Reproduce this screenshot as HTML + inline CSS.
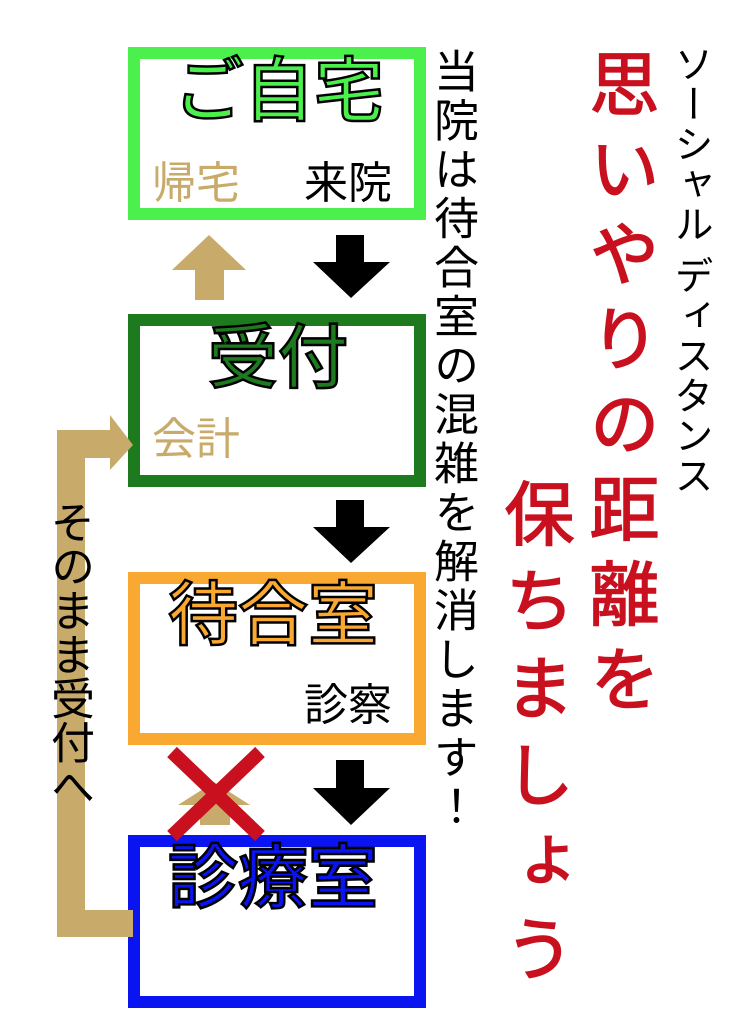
<!DOCTYPE html>
<html><head><meta charset="utf-8"><style>
body{margin:0;width:732px;height:1024px;background:#fff;position:relative;overflow:hidden;font-family:"Liberation Sans","Noto Sans CJK JP",sans-serif}
.b{position:absolute;box-sizing:border-box;left:128px;width:298px;height:173px;border:12px solid}
.t{position:absolute;font-size:70px;line-height:70px;-webkit-text-stroke:2.5px #000;white-space:nowrap;font-weight:500}
.s{position:absolute;font-size:44px;line-height:44px;white-space:nowrap}
.v{position:absolute;writing-mode:vertical-rl;white-space:nowrap}
svg{position:absolute;left:0;top:0}
</style></head><body>
<div class="b" style="top:47px;border-color:#4cf04c"></div>
<div class="b" style="top:314px;border-color:#1e7a1e"></div>
<div class="b" style="top:572px;border-color:#f9a832"></div>
<div class="b" style="top:835px;border-color:#0a14f0"></div>

<div class="t" style="left:174px;top:56px;color:#4cf04c">ご自宅</div>
<div class="s" style="left:152px;top:162px;color:#c8aa6a">帰宅</div>
<div class="s" style="left:304px;top:162px;color:#000">来院</div>
<div class="t" style="left:208px;top:323px;color:#1e7a1e">受付</div>
<div class="s" style="left:152px;top:418px;color:#c8aa6a">会計</div>
<div class="t" style="left:168px;top:580px;color:#f9a832">待合室</div>
<div class="s" style="left:304px;top:684px;color:#000">診察</div>
<div class="t" style="left:168px;top:843px;color:#0a14f0">診療室</div>

<svg width="732" height="1024">
<g fill="#c8aa6a">
<polygon points="209,235 246,270 224,270 224,300 195,300 195,270 172,270"/>
<polygon points="57,430 110,430 110,415 133,445 110,470 110,458 85,458 85,910 133,910 133,937 57,937"/>
<polygon points="214,782 250,805 230,805 230,825 200,825 200,805 178,805"/>
</g>
<g fill="#000">
<polygon points="336,235 364,235 364,262 390,262 351,298 313,262 336,262"/>
<polygon points="336,500 364,500 364,527 390,527 351,563 313,527 336,527"/>
<polygon points="336,760 364,760 364,788 390,788 351,825 313,788 336,788"/>
</g>
<g stroke="#c8101f" stroke-width="14">
<line x1="172" y1="752" x2="260" y2="836"/>
<line x1="260" y1="752" x2="172" y2="836"/>
</g>
</svg>

<div class="v" style="left:428px;top:48px;font-size:45px;line-height:48px;letter-spacing:4px;color:#000">当院は待合室の混雑を解消します！</div>
<div class="v" style="left:583px;top:48px;font-size:70px;line-height:72px;letter-spacing:15px;color:#c8101f;-webkit-text-stroke:1.5px #c8101f">思いやりの距離を</div>
<div class="v" style="left:498px;top:478px;font-size:70px;line-height:72px;letter-spacing:17px;color:#c8101f;-webkit-text-stroke:1.5px #c8101f">保ちましょう</div>
<div class="v" style="left:668px;top:44px;font-size:39px;line-height:44px;letter-spacing:1px;color:#000">ソーシャル ディスタンス</div>
<div class="v" style="left:44px;top:500px;font-size:44px;line-height:48px;color:#000">そのまま受付へ</div>
</body></html>
